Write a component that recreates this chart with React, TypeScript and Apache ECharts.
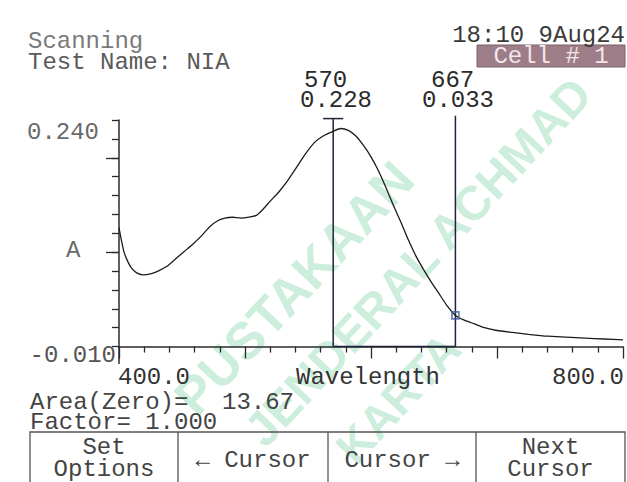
import React, { useEffect, useRef } from "react";
import * as echarts from "echarts";

// Spectrum (wavelength nm, absorbance A)
const wavelengths = [
  400, 402, 404, 407, 410, 414, 419, 425, 431, 438, 445, 452, 459, 466, 472, 478,
  484, 490, 497, 503, 509, 514, 520, 527, 534, 541, 548, 555, 562, 570, 576, 582,
  588, 594, 600, 606, 612, 618, 624, 630, 636, 642, 648, 654, 660, 667, 674, 682,
  690, 700, 712, 725, 740, 755, 770, 785, 800,
];
const absorbance = [
  0.126, 0.112, 0.1, 0.09, 0.083, 0.078, 0.076, 0.077, 0.08, 0.085, 0.093, 0.101,
  0.109, 0.118, 0.127, 0.133, 0.136, 0.137, 0.136, 0.137, 0.139, 0.145, 0.154,
  0.164, 0.176, 0.19, 0.204, 0.216, 0.223, 0.228, 0.231, 0.229, 0.223, 0.213,
  0.201, 0.186, 0.168, 0.149, 0.131, 0.112, 0.095, 0.081, 0.068, 0.056, 0.044,
  0.033, 0.028, 0.024, 0.02, 0.017, 0.015, 0.013, 0.011, 0.01, 0.009, 0.008, 0.007,
];

const cursorWavelengths = [570, 667];
const cursorValues = [0.228, 0.033];
const cursorLabels = ["570", "667"];
const cursorValueLabels = ["0.228", "0.033"];

const yRange = [-0.01, 0.24];
const xRange = [400, 800];
const yMinorTicks = [0, 0.02, 0.04, 0.06, 0.08, 0.1, 0.12, 0.14, 0.16, 0.18, 0.2, 0.22, 0.24];
const yMajorTicks = [0.1, 0.2];
const yTickLabels = ["0.240", "-0.010"];
const xTickLabels = ["400.0", "800.0"];

const buttons = [
  ["Set", "Options"],
  ["\u2190 Cursor"],
  ["Cursor \u2192"],
  ["Next", "Cursor"],
];

const watermarkLines = ["PUSTAKAAN", "JENDERAL ACHMAD", "KARTA"];

const MONO = "'Liberation Mono', 'DejaVu Sans Mono', monospace";

function txt(text: string, x: number, y: number, fill: string, align = "left", size = 24, extra: any = {}) {
  return {
    type: "text",
    x,
    y,
    z: 20,
    style: {
      text,
      fill,
      fontFamily: MONO,
      fontSize: size,
      lineHeight: 17,
      align,
      verticalAlign: "middle",
      ...extra,
    },
  };
}

function wm(text: string, x: number, y: number, size: number) {
  return {
    type: "text",
    x,
    y,
    z: 0,
    rotation: 0.82,
    style: {
      text,
      fill: "#cdeedd",
      fontFamily: "'Liberation Sans', Arial, sans-serif",
      fontWeight: "bold",
      fontSize: size,
      lineHeight: 34,
      align: "center",
      verticalAlign: "middle",
    },
  };
}

export default function App() {
  const ref = useRef<HTMLDivElement>(null);
  useEffect(() => {
    if (!ref.current) return;
    const chart = echarts.init(ref.current, null, { renderer: "svg" });
    const spectrum = wavelengths.map((w, i) => [w, absorbance[i]]);
    const [c1, c2] = cursorWavelengths;
    const axisColor = "#2b2b2b";

    const btnTop = 432;
    const btnEdges = [30, 178, 328, 476, 625];
    const buttonGraphics: any[] = [];
    buttonGraphics.push({
      type: "polyline",
      z: 20,
      shape: { points: [[btnEdges[0], 482], [btnEdges[0], btnTop], [btnEdges[4], btnTop], [btnEdges[4], 482]] },
      style: { stroke: "#555", lineWidth: 1.3, fill: "none" },
    });
    for (let i = 1; i < 4; i++) {
      buttonGraphics.push({
        type: "line",
        z: 20,
        shape: { x1: btnEdges[i], y1: btnTop, x2: btnEdges[i], y2: 482 },
        style: { stroke: "#555", lineWidth: 1.3 },
      });
    }
    buttons.forEach((lines, i) => {
      const cx = (btnEdges[i] + btnEdges[i + 1]) / 2;
      if (lines.length === 2) {
        buttonGraphics.push(txt(lines[0], cx, 447, "#444", "center"));
        buttonGraphics.push(txt(lines[1], cx, 469, "#444", "center"));
      } else {
        buttonGraphics.push(txt(lines[0], cx, 460, "#444", "center"));
      }
    });

    chart.setOption({
      animation: false,
      backgroundColor: "#ffffff",
      grid: { left: 119, top: 120, width: 504, height: 236 },
      xAxis: {
        type: "value",
        min: xRange[0],
        max: xRange[1],
        interval: 100,
        axisLine: { lineStyle: { color: axisColor, width: 1.5 } },
        axisTick: { length: 12, lineStyle: { color: axisColor, width: 1.3 } },
        minorTick: { show: true, splitNumber: 5, length: 6, lineStyle: { color: axisColor, width: 1.3 } },
        axisLabel: { show: false },
        splitLine: { show: false },
        minorSplitLine: { show: false },
      },
      yAxis: [
        {
          type: "value",
          min: yRange[0],
          max: yRange[1],
          axisLine: { show: true, lineStyle: { color: axisColor, width: 1.5 } },
          axisTick: { show: true, customValues: yMinorTicks, length: 7, lineStyle: { color: axisColor, width: 1.3 } },
          axisLabel: { show: false },
          splitLine: { show: false },
        },
        {
          type: "value",
          position: "left",
          min: yRange[0],
          max: yRange[1],
          axisLine: { show: false },
          axisTick: { show: true, customValues: yMajorTicks, length: 13, lineStyle: { color: axisColor, width: 1.3 } },
          axisLabel: { show: false },
          splitLine: { show: false },
        },
      ],
      series: [
        {
          type: "line",
          data: spectrum,
          showSymbol: false,
          smooth: 0.2,
          z: 5,
          lineStyle: { color: "#1c1c1c", width: 1.3 },
        },
        {
          type: "line",
          data: [[c1, 0.2415], [c1, 0], [c2, 0], [c2, 0.2445]],
          showSymbol: false,
          clip: false,
          z: 4,
          lineStyle: { color: "#23243a", width: 1.5 },
        },
        {
          type: "line",
          data: [[c1 - 8, 0.2415], [c1 + 8, 0.2415]],
          showSymbol: false,
          clip: false,
          z: 4,
          lineStyle: { color: "#23243a", width: 1.5 },
        },
        {
          type: "scatter",
          data: [[c2, cursorValues[1]]],
          symbol: "rect",
          symbolSize: 7,
          z: 6,
          itemStyle: { color: "rgba(255,255,255,0)", borderColor: "#3a5a9c", borderWidth: 1.6 },
        },
      ],
      graphic: [
        wm(watermarkLines[0], 294, 288, 52),
        wm(watermarkLines[1], 418, 262, 48),
        wm(watermarkLines[2], 398, 398, 46),
        txt("Scanning", 28, 41, "#7a7a7a"),
        txt("Test Name: NIA", 28, 62, "#5a5a5a"),
        txt("18:10 9Aug24", 625, 35, "#3a3a3a", "right"),
        {
          type: "rect",
          z: 19,
          shape: { x: 477, y: 45, width: 148, height: 22 },
          style: { fill: "#9d7d87", stroke: "#7e6069", lineWidth: 1 },
        },
        txt("Cell # 1", 551, 56, "#f4e6ea", "center"),
        txt(cursorLabels[0], 304, 80, "#2a2a2a"),
        txt(cursorValueLabels[0], 300, 100, "#2a2a2a"),
        txt(cursorLabels[1], 431, 80, "#2a2a2a"),
        txt(cursorValueLabels[1], 422, 100, "#2a2a2a"),
        txt(yTickLabels[0], 27, 132, "#6a6a6a"),
        txt("A", 66, 250, "#6a6a6a"),
        txt(yTickLabels[1], 116, 355, "#555", "right"),
        txt(xTickLabels[0], 118, 377, "#333"),
        txt("Wavelength", 296, 377, "#333"),
        txt(xTickLabels[1], 624, 377, "#333", "right"),
        txt("Area(Zero)=", 30, 402, "#444"),
        txt("13.67", 222, 402, "#444"),
        txt("Factor= 1.000", 30, 422, "#444"),
        {
          type: "line",
          z: 20,
          shape: { x1: 119, y1: 356, x2: 119, y2: 364 },
          style: { stroke: axisColor, lineWidth: 1.5 },
        },
        ...buttonGraphics,
      ],
    });
    return () => chart.dispose();
  }, []);
  return (
    <div
      ref={ref}
      style={{ position: "absolute", left: 0, top: 0, width: 627, height: 482, background: "#fff" }}
    />
  );
}
